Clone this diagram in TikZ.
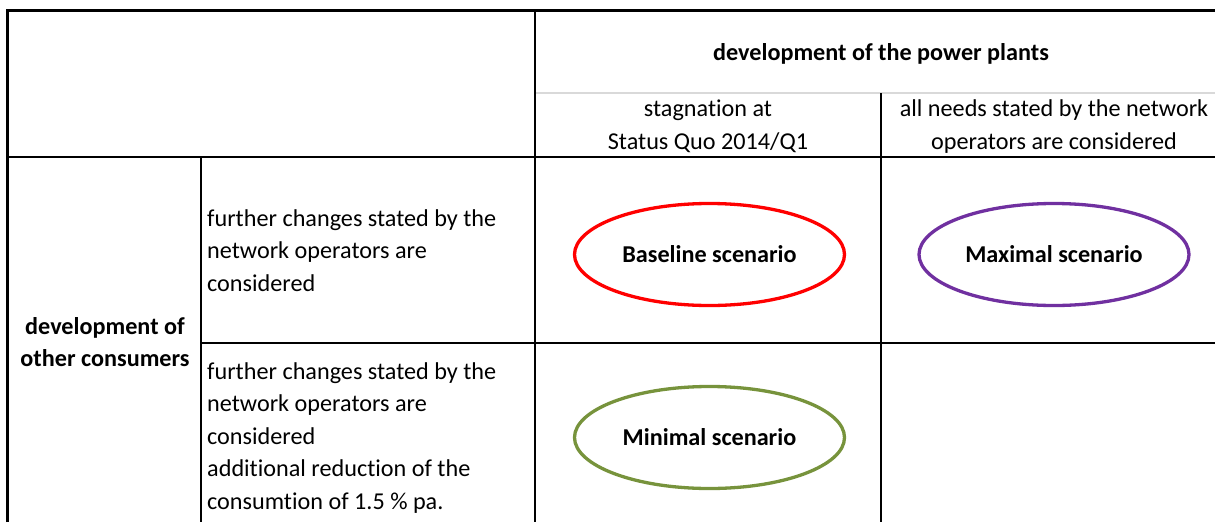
\documentclass[tikz,border=0pt]{standalone}
\usepackage{fontspec}
\setmainfont[Ligatures=NoCommon]{Carlito}
\definecolor{scenred}{HTML}{FF0000}
\definecolor{scenpurple}{HTML}{7030A0}
\definecolor{scengreen}{HTML}{77933C}
\definecolor{gridgray}{HTML}{D9D9D9}
\tikzset{
  cell/.style={font=\fontsize{24.2}{32.5}\selectfont, inner sep=0pt},
  headtxt/.style={cell, font=\fontsize{24.2}{32.5}\selectfont\bfseries},
  scen/.style={ellipse, draw, line width=3.3pt, minimum width=270pt, minimum height=102pt,
    inner sep=0pt, font=\fontsize{24.2}{32.5}\selectfont\bfseries}
}
\usetikzlibrary{shapes.geometric}
\begin{document}
\begin{tikzpicture}[x=1pt,y=-1pt]
        \useasboundingbox (0,0) rectangle (1215,522);
        \def\skipy{32.6}
        %% grid
        \draw[gridgray,line width=1.5pt] (535,93) -- (1215,93);
        \draw[line width=1.3pt] (7,157) -- (1215,157);
        \draw[line width=1.3pt] (201,343) -- (1215,343);
        \draw[line width=1.3pt] (201,157) -- (201,522);
        \draw[line width=1.3pt] (535,10) -- (535,522);
        \draw[line width=1.3pt] (881,93) -- (881,522);
        \draw[line width=3pt] (7,522) -- (7,10) -- (1215,10);
        %% column heads
        \node[headtxt,anchor=base] (plants) at (881,60) {development of the power plants};
        \node[cell,anchor=base] (stag) at (708,116) {stagnation at};
        \node[cell,anchor=base] (stagb) at (708,149) {Status Quo 2014/Q1};
        \node[cell,anchor=base] (needs) at (1054,116) {all needs stated by the network};
        \node[cell,anchor=base] (needsb) at (1054,149) {operators are considered};
        %% row heads
        \node[headtxt,anchor=base] (cons) at (105,334) {development of};
        \node[headtxt,anchor=base] (consb) at (105,366.5) {other consumers};
        \foreach \t [count=\i] in {further changes stated by the,network operators are,considered}
            \node[cell,anchor=base west] (rowa\i) at (207,{226+(\i-1)*\skipy}) {\t};
        \foreach \t [count=\i] in {further changes stated by the,network operators are,considered,
            additional reduction of the,consumtion of 1.5 \% pa.}
            \node[cell,anchor=base west] (rowb\i) at (207,{379+(\i-1)*\skipy}) {\t};
        %% scenarios
        \node[scen,draw=scenred] (base) at (709.5,254.5) {Baseline scenario};
        \node[scen,draw=scenpurple] (maxi) at (1054,254.5) {Maximal scenario};
        \node[scen,draw=scengreen] (mini) at (709.5,437.5) {Minimal scenario};
    \end{tikzpicture}
\end{document}
